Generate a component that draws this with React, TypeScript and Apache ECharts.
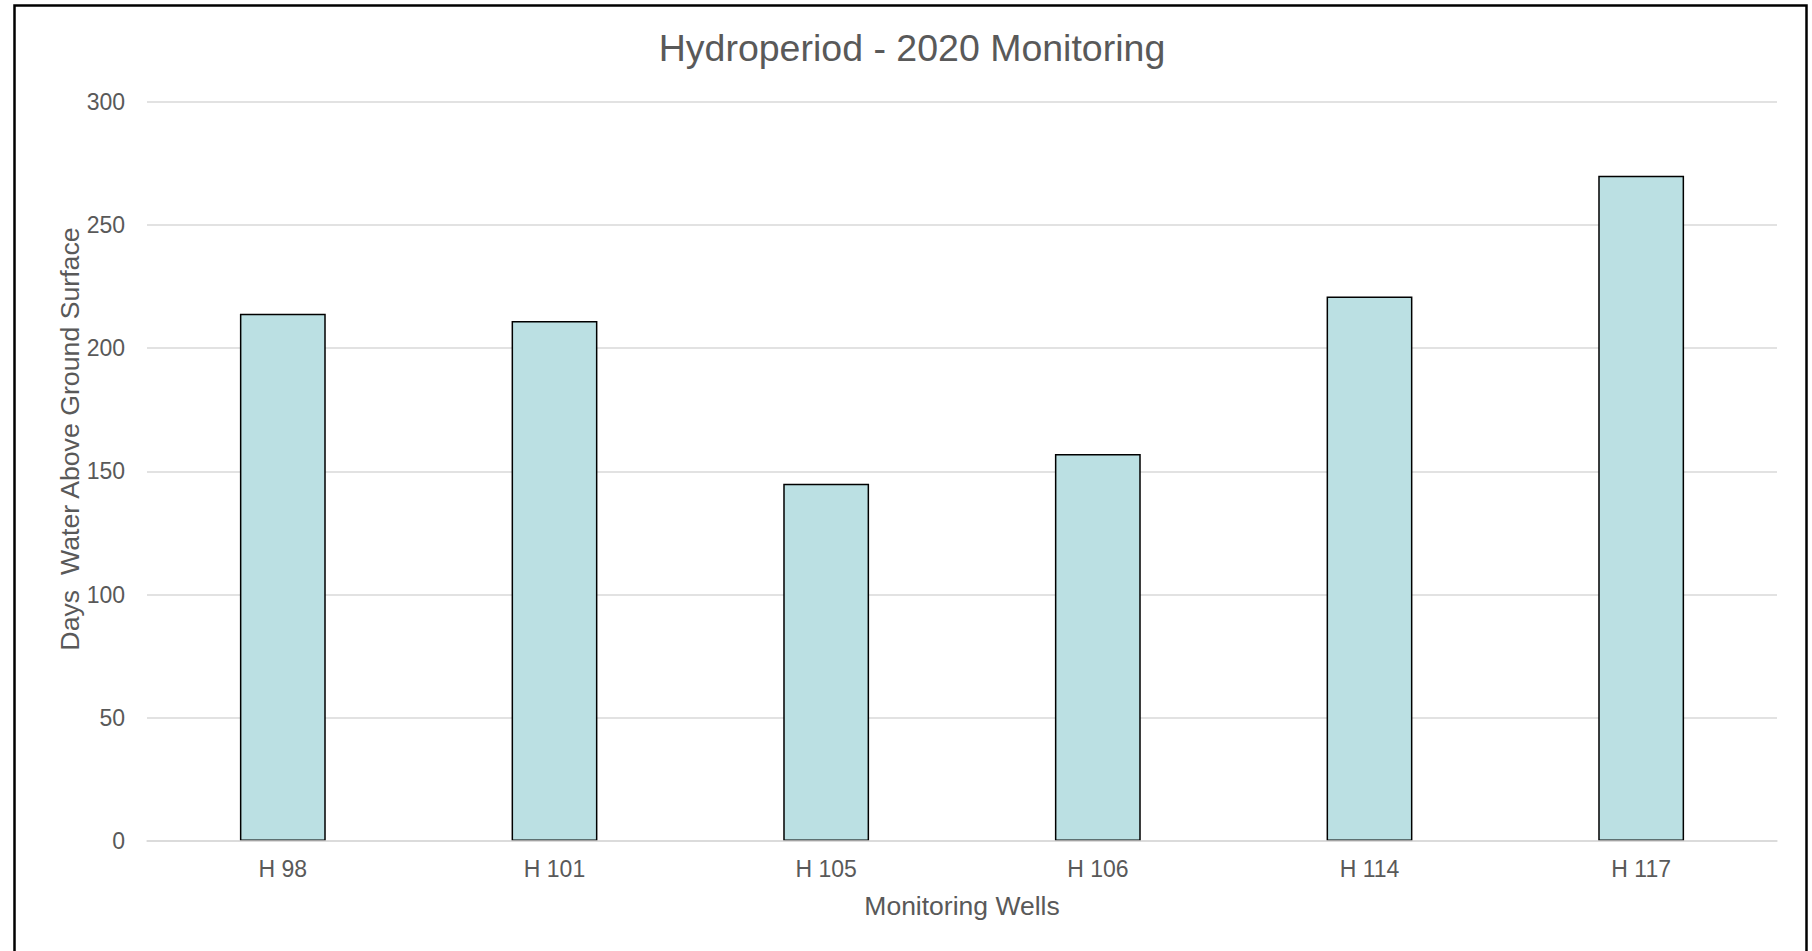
import React, { useEffect, useRef } from "react";
import * as echarts from "echarts";

const categories = ["H 98", "H 101", "H 105", "H 106", "H 114", "H 117"];
const daysAbove = [214, 211, 145, 157, 221, 270];
const yTicks = { min: 0, max: 300, interval: 50 };

const FONT = "'Liberation Sans', Arial, sans-serif";
const TEXT = "#595959";

export default function App() {
  const ref = useRef<HTMLDivElement>(null);
  useEffect(() => {
    if (!ref.current) return;
    const chart = echarts.init(ref.current, null, { renderer: "svg" });
    chart.setOption({
      animation: false,
      backgroundColor: "#ffffff",
      title: {
        text: "Hydroperiod - 2020 Monitoring",
        left: 907,
        textAlign: "center",
        top: 24,
        textStyle: { fontFamily: FONT, fontSize: 37.5, fontWeight: "normal", color: TEXT },
      },
      grid: { left: 147, right: 35, top: 101.7, bottom: 110, containLabel: false },
      xAxis: {
        type: "category",
        data: categories,
        axisLine: { show: true, lineStyle: { color: "#D9D9D9", width: 1.5 } },
        axisTick: { show: false },
        axisLabel: { margin: 16, fontFamily: FONT, fontSize: 23, color: TEXT },
        z: 10,
      },
      yAxis: {
        type: "value",
        min: yTicks.min,
        max: yTicks.max,
        interval: yTicks.interval,
        axisLine: { show: false },
        axisTick: { show: false },
        splitLine: { lineStyle: { color: "#D9D9D9", width: 1.5 } },
        axisLabel: { margin: 22, fontFamily: FONT, fontSize: 23, color: TEXT },
      },
      series: [
        {
          type: "bar",
          data: daysAbove,
          barWidth: "31.6%",
          itemStyle: { color: "#BBE0E3", borderColor: "#000000", borderWidth: 1.5 },
        },
      ],
      graphic: [
        {
          type: "rect",
          shape: { x: 14.5, y: 5.5, width: 1792, height: 980 },
          style: { fill: "none", stroke: "#000000", lineWidth: 2.5 },
          silent: true,
          z: 100,
        },
        {
          type: "text",
          x: 70,
          y: 439,
          rotation: Math.PI / 2,
          style: {
            text: "Days  Water Above Ground Surface",
            fontFamily: FONT,
            fontSize: 26.7,
            fill: TEXT,
            align: "center",
            verticalAlign: "middle",
          },
        },
        {
          type: "text",
          x: 962,
          y: 906,
          style: {
            text: "Monitoring Wells",
            fontFamily: FONT,
            fontSize: 26.5,
            fill: TEXT,
            align: "center",
            verticalAlign: "middle",
          },
        },
      ],
    });
    return () => chart.dispose();
  }, []);
  return (
    <div
      ref={ref}
      style={{ position: "fixed", left: 0, top: 0, width: 1812, height: 951 }}
    />
  );
}
